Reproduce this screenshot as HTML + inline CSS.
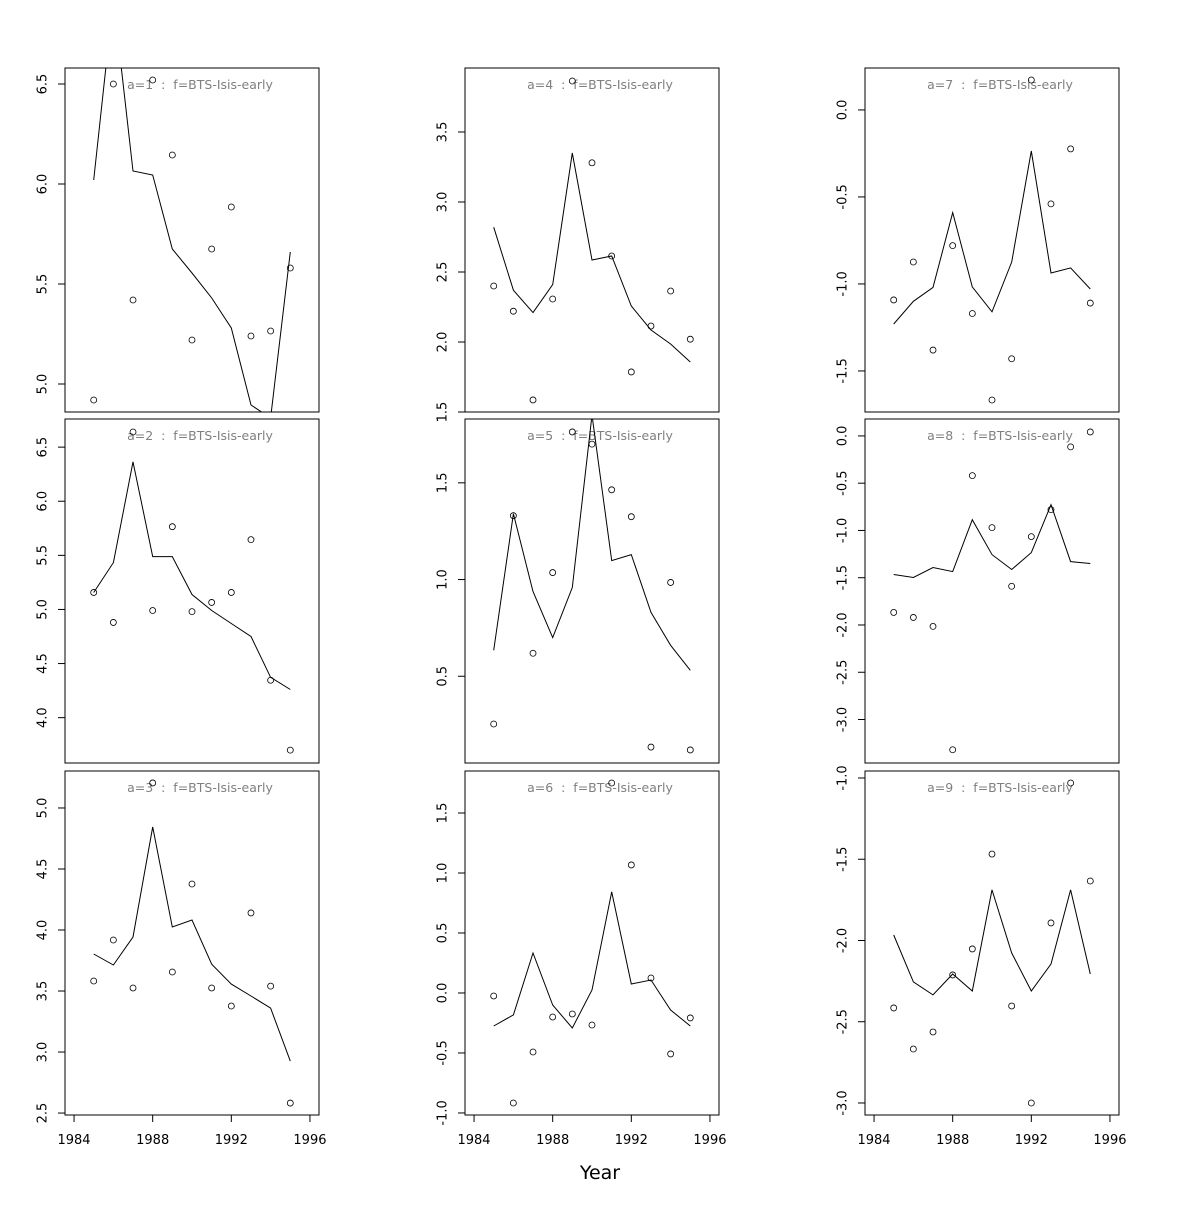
<!DOCTYPE html>
<html><head><meta charset="utf-8"><style>
body{margin:0;background:#fff}
svg text{font-family:"DejaVu Sans","Liberation Sans",sans-serif;white-space:pre}
</style></head><body>
<svg id="chart" width="1200" height="1200" xmlns="http://www.w3.org/2000/svg"></svg>
<script>
const years = [1985,1986,1987,1988,1989,1990,1991,1992,1993,1994,1995];
const xTicks = [1984,1988,1992,1996];
const panelLabels = ["a=1","a=2","a=3","a=4","a=5","a=6","a=7","a=8","a=9"];
const obs1 = [4.92,6.5,5.42,6.52,6.145,5.22,5.675,5.885,5.24,5.265,5.58];
const fit1 = [6.02,6.93,6.065,6.045,5.675,5.555,5.43,5.28,4.895,4.83,5.66];
const obs2 = [5.157,4.88,6.64,4.99,5.765,4.98,5.065,5.157,5.645,4.346,3.7];
const fit2 = [5.157,5.433,6.364,5.488,5.488,5.138,4.99,4.87,4.75,4.373,4.26];
const obs3 = [3.582,3.918,3.525,5.205,3.656,4.377,3.525,3.377,4.14,3.54,2.582];
const fit3 = [3.803,3.713,3.943,4.844,4.025,4.082,3.72,3.557,3.459,3.36,2.926];
const obs4 = [2.4,2.22,1.586,2.307,3.864,3.28,2.614,1.786,2.114,2.364,2.02];
const fit4 = [2.82,2.37,2.21,2.41,3.35,2.586,2.614,2.257,2.086,1.986,1.857];
const obs5 = [0.253,1.33,0.619,1.036,1.763,1.70,1.464,1.325,0.134,0.985,0.119];
const fit5 = [0.634,1.34,0.938,0.70,0.959,1.85,1.098,1.129,0.83,0.66,0.531];
const obs6 = [-0.025,-0.917,-0.492,-0.2,-0.175,-0.267,1.75,1.067,0.125,-0.508,-0.208];
const fit6 = [-0.275,-0.183,0.333,-0.1,-0.292,0.025,0.842,0.075,0.108,-0.142,-0.275];
const obs7 = [-1.092,-0.874,-1.38,-0.78,-1.17,-1.667,-1.43,0.172,-0.54,-0.224,-1.11];
const fit7 = [-1.23,-1.10,-1.02,-0.59,-1.017,-1.16,-0.874,-0.236,-0.937,-0.908,-1.029];
const obs8 = [-1.867,-1.92,-2.015,-3.32,-0.42,-0.97,-1.59,-1.065,-0.78,-0.116,0.042];
const fit8 = [-1.466,-1.498,-1.392,-1.435,-0.886,-1.255,-1.413,-1.234,-0.728,-1.329,-1.35];
const obs9 = [-2.415,-2.668,-2.563,-2.212,-2.052,-1.468,-2.403,-3.0,-1.892,-1.031,-1.634];
const fit9 = [-1.966,-2.255,-2.335,-2.206,-2.311,-1.689,-2.077,-2.311,-2.145,-1.689,-2.206];
const yTicks1 = [5.0,5.5,6.0,6.5];
const yTicks2 = [4.0,4.5,5.0,5.5,6.0,6.5];
const yTicks3 = [2.5,3.0,3.5,4.0,4.5,5.0];
const yTicks4 = [1.5,2.0,2.5,3.0,3.5];
const yTicks5 = [0.5,1.0,1.5];
const yTicks6 = [-1.0,-0.5,0.0,0.5,1.0,1.5];
const yTicks7 = [-1.5,-1.0,-0.5,0.0];
const yTicks8 = [-3.0,-2.5,-2.0,-1.5,-1.0,-0.5,0.0];
const yTicks9 = [-3.0,-2.5,-2.0,-1.5,-1.0];
const yLims = [[4.86,6.58],[3.581,6.76],[2.484,5.303],[1.5,3.957],[0.0515,1.83],[-1.017,1.85],[-1.736,0.241],[-3.46,0.179],[-3.074,-0.957]];
const xLim = [1983.54,1996.46];

const obsAll=[obs1,obs2,obs3,obs4,obs5,obs6,obs7,obs8,obs9];
const fitAll=[fit1,fit2,fit3,fit4,fit5,fit6,fit7,fit8,fit9];
const tickAll=[yTicks1,yTicks2,yTicks3,yTicks4,yTicks5,yTicks6,yTicks7,yTicks8,yTicks9];
const NS="http://www.w3.org/2000/svg";
const svg=document.getElementById('chart');
function mk(tag,attrs,parent){const e=document.createElementNS(NS,tag);for(const k in attrs)e.setAttribute(k,attrs[k]);(parent||svg).appendChild(e);return e;}
const defs=mk('defs',{});
const colL=[65,465,865], rowT=[68,419,771], W=254, H=344;
for(let p=0;p<9;p++){
  const col=Math.floor(p/3), row=p%3;
  const L=colL[col], T=rowT[row];
  const xs=v=>L+(v-xLim[0])/(xLim[1]-xLim[0])*W;
  const ys=v=>T+H-(v-yLims[p][0])/(yLims[p][1]-yLims[p][0])*H;
  const g=mk('g',{});
  
  
  const cp=mk('clipPath',{id:'c'+p},defs);
  mk('rect',{x:L,y:T,width:W,height:H},cp);
  const lab=mk('text',{x:L+135,y:T+21,'text-anchor':'middle','font-size':12.5,fill:'#808080'},g);
  lab.textContent=panelLabels[p]+"  :  f=BTS-Isis-early";
  
  
  const pg=mk('g',{'clip-path':'url(#c'+p+')'},g);
  const pts=years.map((y,i)=>xs(y).toFixed(1)+','+ys(fitAll[p][i]).toFixed(1)).join(' ');
  const line=mk('polyline',{points:pts,fill:'none',stroke:'#000','stroke-width':1},pg);
  
  
  years.forEach((y,i)=>{
    const c=mk('circle',{cx:xs(y),cy:ys(obsAll[p][i]),r:3,fill:'none',stroke:'#000','stroke-width':0.8},pg);
    
    
  });
  const box=mk('rect',{x:L,y:T,width:W,height:H,fill:'none',stroke:'#000','stroke-width':1},g);
  
  
  const ya=mk('g',{},g);
  
  
  const tk=tickAll[p];
  mk('line',{x1:L,x2:L,y1:ys(tk[0]),y2:ys(tk[tk.length-1]),stroke:'#000'},ya);
  tk.forEach(v=>{
    const y=ys(v);
    mk('line',{x1:L-7,x2:L,y1:y,y2:y,stroke:'#000'},ya);
    const t=mk('text',{x:L-22,y:y,'text-anchor':'middle','font-size':13,transform:'rotate(-90 '+(L-22)+' '+y+')','dominant-baseline':'central'},ya);
    t.textContent=v.toFixed(1);
  });
  if(row===2){
    const xa=mk('g',{},g);
    
    
    mk('line',{x1:xs(xTicks[0]),x2:xs(xTicks[xTicks.length-1]),y1:T+H,y2:T+H,stroke:'#000'},xa);
    xTicks.forEach(v=>{
      const x=xs(v);
      mk('line',{x1:x,x2:x,y1:T+H,y2:T+H+7,stroke:'#000'},xa);
      const t=mk('text',{x:x,y:T+H+29,'text-anchor':'middle','font-size':13},xa);
      t.textContent=v;
    });
  }
}
const xt=mk('text',{x:600,y:1179,'text-anchor':'middle','font-size':19});
xt.textContent='Year';


</script>
</body></html>
